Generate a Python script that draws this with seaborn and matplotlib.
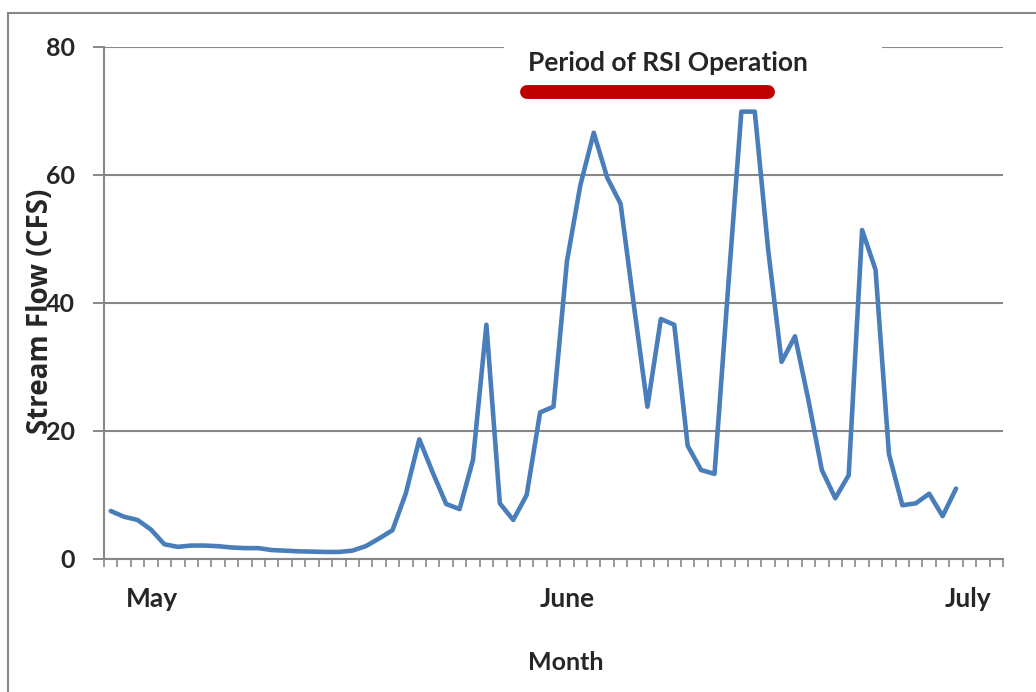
import numpy as np
import pandas as pd
import matplotlib
matplotlib.use("Agg")
import matplotlib.pyplot as plt
from matplotlib.lines import Line2D
from matplotlib.patches import Rectangle
import seaborn as sns

# ---- data (daily stream flow, CFS) ----
flow = [7.5, 6.6, 6.1, 4.6, 2.3, 1.9, 2.1, 2.1, 2.0, 1.8, 1.7, 1.7, 1.4, 1.3,
        1.2, 1.15, 1.1, 1.1, 1.3, 2.0, 3.2, 4.5, 10.3, 18.7, 13.5, 8.6, 7.8,
        15.5, 36.6, 8.7, 6.1, 10.0, 22.9, 23.8, 46.5, 58.4, 66.6, 59.6, 55.5,
        39.5, 23.8, 37.5, 36.6, 17.7, 13.9, 13.3, 42.0, 69.9, 69.9, 48.3, 30.8,
        34.8, 24.8, 13.9, 9.5, 13.1, 51.4, 45.2, 16.4, 8.4, 8.7, 10.2, 6.7, 11.0]
n_categories = 67
month_labels = ["May", "June", "July"]
month_label_pos = [3.1, 34.0, 63.9]
y_ticks = [0, 20, 40, 60, 80]
rsi_start, rsi_end = 30.5, 49.5
annotation = "Period of RSI Operation"

df = pd.DataFrame({"day": np.arange(len(flow)), "flow": flow})

sns.set_style("white")
plt.rcParams["font.family"] = ["Lato", "DejaVu Sans"]
plt.rcParams["font.weight"] = "bold"

W, H = 1036, 692
fig = plt.figure(figsize=(W / 100, H / 100), dpi=100)
ax = fig.add_axes([104 / W, 1 - 559 / H, (1003 - 104) / W, (559 - 47) / H])

grid_c = "#878787"
line_c = "#4A7EBB"

sns.lineplot(data=df, x="day", y="flow", ax=ax, color=line_c, linewidth=3.3,
             solid_joinstyle="round", solid_capstyle="round", zorder=5)

ax.set_xlim(-0.5, n_categories - 0.5)
ax.set_ylim(0, 80)
ax.set_yticks(y_ticks)
ax.set_yticklabels([str(v) for v in y_ticks], fontsize=18, fontweight="bold")
ax.set_xticks(np.arange(n_categories + 1) - 0.5)
ax.set_xticklabels([])
ax.tick_params(axis="y", direction="out", length=8, width=1.4, color=grid_c, pad=13, left=True)
ax.tick_params(axis="x", direction="out", length=6, width=1.2, color=grid_c, bottom=True)
ax.yaxis.grid(True, color=grid_c, linewidth=1.5, zorder=0)
ax.set_axisbelow(True)
for s in ["top", "right"]:
    ax.spines[s].set_visible(False)
for s in ["left", "bottom"]:
    ax.spines[s].set_color(grid_c)
    ax.spines[s].set_linewidth(1.5)
ax.set_xlabel("")
ax.set_ylabel("")

# month labels
for lab, pos in zip(month_labels, month_label_pos):
    ax.text(pos, -6.2, lab, ha="center", va="center", fontsize=19,
            fontweight="bold", clip_on=False)

# axis titles
fig.text(566 / W, 1 - 662 / H, "Month", ha="center", va="center",
         fontsize=18, fontweight="bold")
fig.text(41 / W, 1 - 311 / H, "Stream Flow (CFS)", ha="center", va="center",
         rotation=90, fontsize=20, fontweight="bold",
         family=["Open Sans", "DejaVu Sans"])

# annotation box (white background hides gridline)
ax.add_patch(Rectangle((29.3, 74.3), 57.5 - 29.3, 7.0, facecolor="white",
                       edgecolor="none", zorder=3, clip_on=False))
ax.text(41.5, 77.5, annotation, ha="center", va="center", fontsize=19,
        fontweight="bold", zorder=6, clip_on=False)
ax.plot([rsi_start + 0.5, rsi_end - 0.5], [73, 73], color="#C00000",
        linewidth=10, solid_capstyle="round", zorder=6, clip_on=False)

# outer chart-area frame
fig.add_artist(Line2D([8 / W, 1], [1 - 13 / H, 1 - 13 / H], color=grid_c, linewidth=1.5))
fig.add_artist(Line2D([8 / W, 8 / W], [0, 1 - 13 / H], color=grid_c, linewidth=1.5))

fig.savefig("out.png", dpi=100)
